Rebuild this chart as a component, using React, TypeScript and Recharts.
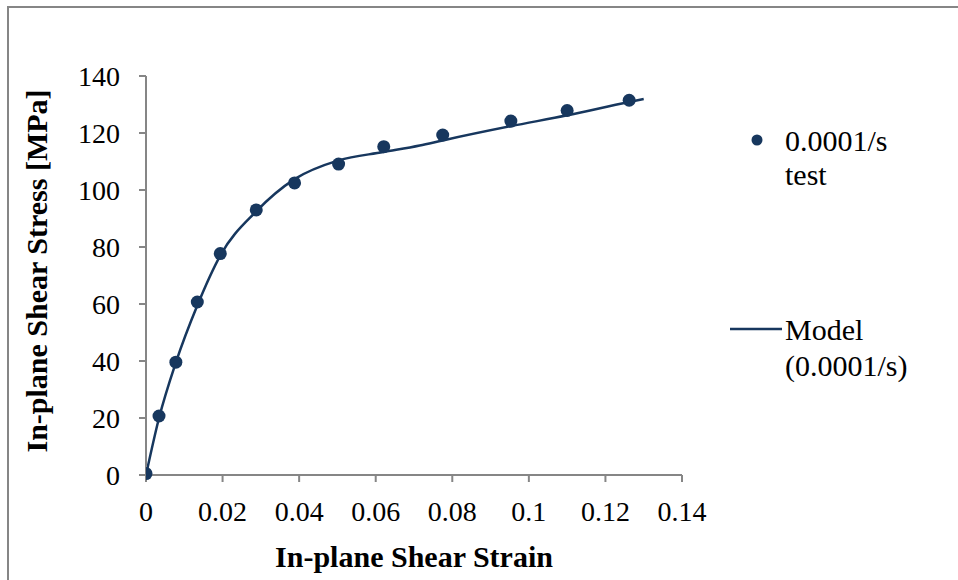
import React from 'react';
import {
  ComposedChart,
  XAxis,
  YAxis,
  Line,
  Scatter,
  Legend,
} from 'recharts';

// test points: shear strain vs shear stress (MPa)
const testStrain = [0, 0.0034, 0.0078, 0.0134, 0.0194, 0.0288, 0.0388, 0.0503, 0.0621, 0.0775, 0.0953, 0.11, 0.1262];
const testStress = [0.5, 20.7, 39.6, 60.7, 77.7, 93.0, 102.5, 109.1, 115.2, 119.3, 124.2, 127.9, 131.5];

// model curve
const modelStrain = [0, 0.0034, 0.0078, 0.0134, 0.0194, 0.0288, 0.0388, 0.0503, 0.062, 0.0715, 0.0775, 0.0953, 0.11, 0.1262, 0.13];
const modelStress = [0, 20, 39.5, 59.5, 77, 92.5, 103.8, 110.4, 113.3, 115.6, 117.4, 122.4, 126.2, 130.9, 131.9];

const xTicks = [0, 0.02, 0.04, 0.06, 0.08, 0.1, 0.12, 0.14];
const yTicks = [0, 20, 40, 60, 80, 100, 120, 140];

const testName = '0.0001/s test';
const modelName = 'Model (0.0001/s)';

const testData = testStrain.map((x, i) => ({ x, y: testStress[i] }));
const modelData = modelStrain.map((x, i) => ({ x, y: modelStress[i] }));

const NAVY = '#17375E';
const GREY = '#868686';
const FONT = 'Liberation Serif';

const Dot = (props: any) => <circle cx={props.cx} cy={props.cy} r={6.5} fill={NAVY} />;

const LegendBox = () => (
  <svg width={258} height={300}>
    <circle cx={57} cy={40} r={5.5} fill={NAVY} />
    <text x={85} y={51} fill="#000" fontFamily={FONT} fontSize={30}>0.0001/s</text>
    <text x={85} y={85} fill="#000" fontFamily={FONT} fontSize={30}>test</text>
    <line x1={30} y1={229} x2={82} y2={229} stroke={NAVY} strokeWidth={2.5} />
    <text x={85} y={240} fill="#000" fontFamily={FONT} fontSize={30}>Model</text>
    <text x={85} y={276} fill="#000" fontFamily={FONT} fontSize={30}>(0.0001/s)</text>
  </svg>
);

export default function App() {
  return (
    <div
      style={{
        position: 'absolute',
        left: 0,
        top: 0,
        width: 958,
        height: 580,
        overflow: 'hidden',
        background: '#fff',
        fontFamily: FONT,
      }}
    >
      <div
        style={{
          position: 'absolute',
          left: 7,
          top: 6,
          width: 1000,
          height: 1000,
          borderLeft: `2px solid ${GREY}`,
          borderTop: `2px solid ${GREY}`,
        }}
      />
      <div style={{ position: 'absolute', left: 0, top: 0 }}>
        <ComposedChart
          width={958}
          height={580}
          margin={{ top: 76, right: 276, left: 46, bottom: 0 }}
        >
          <XAxis
            type="number"
            dataKey="x"
            domain={[0, 0.14]}
            ticks={xTicks}
            tickFormatter={(v: number) => String(v)}
            height={105}
            stroke={GREY}
            strokeWidth={2}
            tickSize={7}
            tickMargin={19}
            tick={{ fontSize: 28, fill: '#000', fontFamily: FONT }}
            allowDataOverflow
            label={{
              content: () => (
                <text x={414} y={567} textAnchor="middle" fontSize={30} fontWeight="bold" fontFamily={FONT} fill="#000">
                  In-plane Shear Strain
                </text>
              ),
            }}
          />
          <YAxis
            type="number"
            domain={[0, 140]}
            ticks={yTicks}
            width={100}
            stroke={GREY}
            strokeWidth={2}
            tickSize={7}
            tickMargin={19}
            tick={{ fontSize: 28, fill: '#000', fontFamily: FONT }}
            label={{
              content: () => (
                <text
                  x={47}
                  y={271}
                  transform="rotate(-90 47 271)"
                  textAnchor="middle"
                  fontSize={30}
                  fontWeight="bold"
                  fontFamily={FONT}
                  fill="#000"
                >
                  In-plane Shear Stress [MPa]
                </text>
              ),
            }}
          />
          <Line
            data={modelData}
            dataKey="y"
            name={modelName}
            type="monotone"
            stroke={NAVY}
            strokeWidth={2.5}
            dot={false}
            activeDot={false}
            isAnimationActive={false}
          />
          <Scatter
            data={testData}
            dataKey="y"
            name={testName}
            fill={NAVY}
            shape={Dot}
            isAnimationActive={false}
          />
          <Legend
            layout="horizontal"
            verticalAlign="middle"
            align="center"
            wrapperStyle={{ position: 'absolute', left: 700, top: 100, width: 258, height: 300 }}
            content={() => <LegendBox />}
          />
        </ComposedChart>
      </div>
    </div>
  );
}
